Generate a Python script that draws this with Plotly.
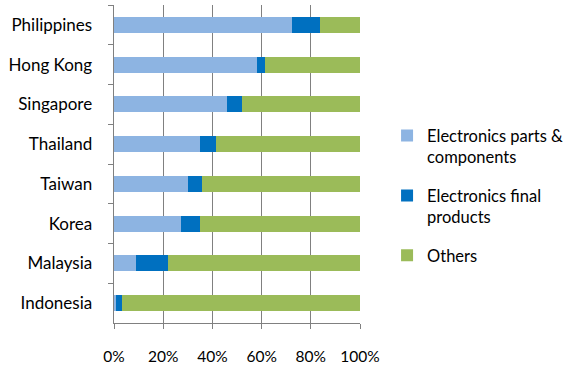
import plotly.graph_objects as go

# Economies, top to bottom
economies = ["Philippines", "Hong Kong", "Singapore", "Thailand",
             "Taiwan", "Korea", "Malaysia", "Indonesia"]

# Export shares (%)
parts_components = [72.3, 58.2, 45.9, 34.8, 30.0, 27.4, 9.0, 0.8]
final_products = [11.4, 3.1, 6.1, 6.8, 5.6, 7.4, 13.1, 2.6]
others = [round(100 - a - b, 1) for a, b in zip(parts_components, final_products)]

series_names = ["Electronics parts &<br>components",
                "Electronics final<br>products",
                "Others"]
series_colors = ["#8DB4E2", "#0070C0", "#9BBB59"]
series_values = [parts_components, final_products, others]

x_ticks = [0, 20, 40, 60, 80, 100]
x_tick_labels = ["0%", "20%", "40%", "60%", "80%", "100%"]

FONT = "Lato"
GRID = "#808080"

# Short visible tick marks sit on the minor ticks (nudged a hair so they are
# not merged with the major ones); the long transparent major ticks only
# push the percentage labels away from the axis.
EPS = 0.001
minor_tick_vals = [min(v + EPS, x_ticks[-1] - EPS) for v in x_ticks]

fig = go.Figure()
for i, (name, color, vals) in enumerate(zip(series_names, series_colors, series_values)):
    fig.add_trace(go.Bar(
        y=economies, x=vals, name=name, orientation="h",
        legendgroup=f"g{i}",
        marker=dict(color=color, line=dict(width=0)),
    ))

fig.update_layout(
    barmode="stack",
    bargap=0.6,
    width=569, height=370,
    margin=dict(l=114, r=209, t=5, b=47, autoexpand=False),
    paper_bgcolor="white",
    plot_bgcolor="white",
    font=dict(family=FONT, size=16, color="#000000"),
    legend=dict(
        x=1.11, xanchor="left", y=0.4, yanchor="middle",
        traceorder="grouped",
        valign="top",
        font=dict(family=FONT, size=16.5, color="#000000"),
        tracegroupgap=14,
        itemwidth=30,
        bgcolor="rgba(0,0,0,0)",
    ),
    showlegend=True,
)

fig.update_xaxes(
    range=[0, 100],
    tickmode="array", tickvals=x_ticks, ticktext=x_tick_labels,
    showgrid=True, gridcolor=GRID, gridwidth=1,
    showline=True, linecolor=GRID, linewidth=1,
    ticks="outside", ticklen=19, tickcolor="rgba(0,0,0,0)",
    minor=dict(tickmode="array", tickvals=minor_tick_vals,
               ticks="outside", ticklen=5, tickcolor=GRID, tickwidth=1,
               showgrid=False),
    zeroline=False,
    tickfont=dict(family=FONT, size=15.5, color="#000000"),
)
fig.update_yaxes(
    autorange="reversed",
    categoryorder="array", categoryarray=economies,
    showline=True, linecolor=GRID, linewidth=1,
    ticks="outside", ticklen=5, tickcolor=GRID,
    tickson="boundaries",
    ticksuffix="\u00a0" * 4,
    showgrid=False,
    tickfont=dict(family=FONT, size=17, color="#000000"),
)

fig.write_html("out.html")
